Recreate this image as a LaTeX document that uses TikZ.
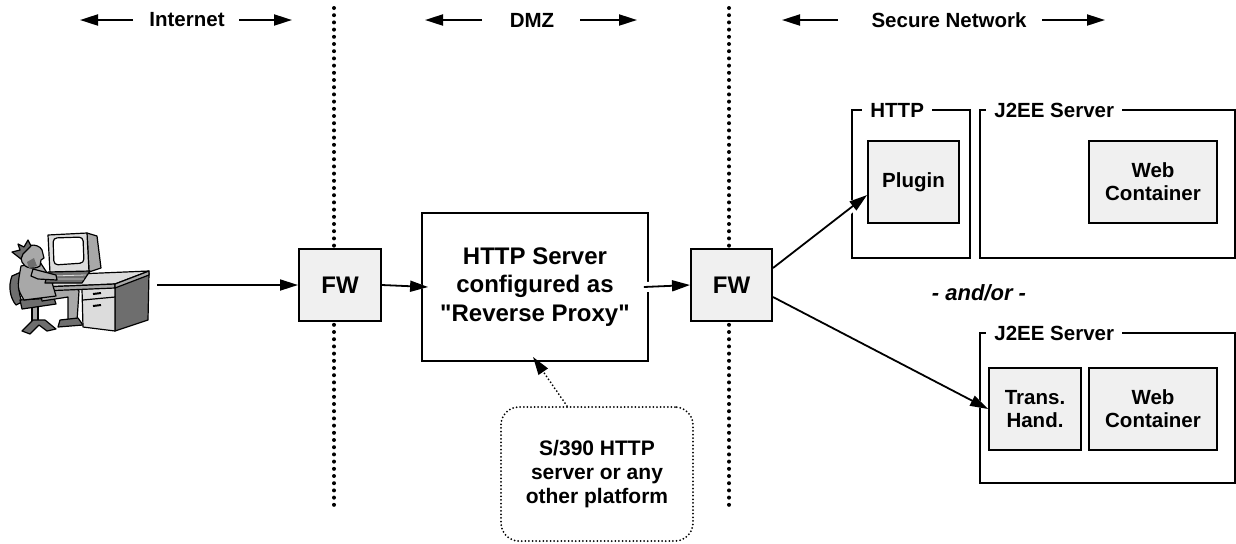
\documentclass[tikz,border=0pt]{standalone}
\usepackage{fontspec}
\setmainfont{Liberation Sans}
\usetikzlibrary{arrows.meta,calc}
\pgfdeclarelayer{background}
\pgfdeclarelayer{halo}
\pgfsetlayers{background,halo,main}

\definecolor{boxgray}{HTML}{F0F0F0}
\definecolor{clipA}{HTML}{DCDCDC}
\definecolor{clipB}{HTML}{A8A8A8}
\definecolor{clipC}{HTML}{6E6E6E}

\begin{document}
\begin{tikzpicture}[x=0.5pt,y=-0.5pt,
  tip/.style={-{Triangle[length=9pt,width=5.5pt]}},
  fwbox/.style={draw, line width=1pt, fill=boxgray, minimum width=41pt,
    minimum height=36pt, inner sep=0pt, font=\bfseries\fontsize{12}{14}\selectfont},
  innerbox/.style={draw, line width=0.9pt, fill=boxgray, align=center, inner sep=0pt,
    minimum height=41pt, font=\bfseries\fontsize{10.25}{11.35}\selectfont},
  framebox/.style={draw, line width=0.9pt, inner sep=0pt},
  framelabel/.style={fill=white, anchor=west, inner xsep=4pt, inner ysep=1pt,
    font=\bfseries\fontsize{10.25}{12}\selectfont},
  hdr/.style={inner sep=0pt, font=\bfseries\fontsize{10.25}{12}\selectfont},
  hdrarrow/.style={tip, line width=1pt},
  flow/.style={tip, line width=0.9pt},
  haloline/.style={draw=white, line width=5pt, tip},
  zone/.style={line width=2pt, line cap=round, dash pattern=on 0pt off 3.6pt},
  notebox/.style={draw, line width=1pt, line cap=round, dash pattern=on 0pt off 1.8pt,
    rounded corners=9pt, align=center, inner sep=0pt,
    font=\bfseries\fontsize{10.5}{12}\selectfont},
  notearrow/.style={tip, line width=1pt, line cap=round, dash pattern=on 0pt off 1.8pt},
  clip line/.style={line width=0.6pt, line join=round}
]
\useasboundingbox (0,0) rectangle (1236,543);

% ---------- zone headings ----------
\node[hdr] (inet) at (187,20) {Internet};
\node[hdr] (dmz)  at (532,20) {DMZ};
\node[hdr] (sec)  at (949,20) {Secure Network};
\draw[hdrarrow] ([xshift=-27pt]inet.center) -- ++(-53,0);
\draw[hdrarrow] ([xshift=26pt]inet.center)  -- ++(53,0);
\draw[hdrarrow] ([xshift=-25pt]dmz.center)  -- ++(-57,0);
\draw[hdrarrow] ([xshift=24pt]dmz.center)   -- ++(57,0);
\draw[hdrarrow] ([xshift=-55.5pt]sec.center) -- ++(-56,0);
\draw[hdrarrow] ([xshift=46.5pt]sec.center)  -- ++(63,0);

% ---------- zone borders, frames and the proxy box ----------
\begin{pgfonlayer}{background}
  \draw[zone] (334,8) -- (334,512);
  \draw[zone] (729,8) -- (729,512);
  \node[framebox, minimum width=113pt, minimum height=74pt, align=center,
        font=\bfseries\fontsize{12}{14.25}\selectfont] (proxy) at (535,287)
        {HTTP Server\\configured as\\\textquotedbl Reverse Proxy\textquotedbl};
  \node[framebox, minimum width=59pt, minimum height=74pt] (httpframe) at (911,184) {};
  \node[framebox, minimum width=127.5pt, minimum height=74pt] (j2eeA) at (1107.5,184) {};
  \node[framebox, minimum width=127.5pt, minimum height=75pt] (j2eeB) at (1107.5,408) {};
\end{pgfonlayer}

\node[framelabel] (httplbl) at (862,110) {HTTP};
\node[framelabel] (j2eeAlbl) at (986,110) {J2EE Server};
\node[framelabel] (j2eeBlbl) at (986,333) {J2EE Server};

% ---------- firewalls and components ----------
\node[fwbox] (fw1) at (340,285) {FW};
\node[fwbox, minimum width=40.5pt] (fw2) at (731.5,285) {FW};

\node[innerbox, minimum width=45.5pt] (plugin) at (913.5,182) {Plugin};
\node[innerbox, minimum width=64pt] (webA) at (1153,182) {Web\\Container};
\node[innerbox, minimum width=46pt] (trans) at (1035,409) {Trans.\\Hand.};
\node[innerbox, minimum width=64pt] (webB) at (1153,409) {Web\\Container};

\node[font=\bfseries\itshape\fontsize{11}{13}\selectfont] (andor) at (979,293) {- and/or -};

% ---------- note ----------
\node[notebox, minimum width=96pt, minimum height=67pt] (note) at (597,474)
  {S/390 HTTP\\server or any\\other platform};
\draw[notearrow] ([xshift=-15pt]note.north) -- ([xshift=-1pt,yshift=2.5pt]proxy.south);

% ---------- workstation user ----------
\node[inner sep=0pt, minimum width=77pt, minimum height=51pt] (user) at (80,285) {};
\begin{scope}[clip line]
  % chair
  \filldraw[fill=clipC] (12,276) .. controls (8,286) and (10,298) .. (16,305)
    -- (22,302) .. controls (18,292) and (18,282) .. (21,272) -- cycle;
  \filldraw[fill=clipB] (32,306) -- (38,306) -- (38,321) -- (32,321) -- cycle;
  \filldraw[fill=clipC] (22,331) -- (33,320) -- (45,320) -- (56,329) -- (47,331)
    -- (39,325) -- (30,334) -- cycle;
  \filldraw[fill=clipC] (20,300) -- (54,298) -- (56,304) -- (22,309) -- cycle;
  % legs
  \filldraw[fill=clipB] (40,288) -- (74,285) -- (79,291) -- (77,321) -- (68,321)
    -- (68,297) -- (42,301) -- cycle;
  \filldraw[fill=clipC] (60,320) -- (78,318) -- (83,325) -- (58,327) -- cycle;
  % desk
  \filldraw[fill=clipC] (115,286) -- (149,273) -- (148,320) -- (115,331) -- cycle;
  \filldraw[fill=clipA] (82,289) -- (115,287) -- (115,331) -- (83,327) -- cycle;
  \draw (83,300) -- (115,297);
  \draw[line width=1pt] (93,294) -- (101,293) (93,306) -- (101,305);
  \filldraw[fill=clipA] (42,287) -- (77,274) -- (149,271) -- (115,284) -- cycle;
  \filldraw[fill=clipB] (42,287) -- (115,284) -- (115,288) -- (42,291) -- cycle;
  \filldraw[fill=clipB] (115,284) -- (149,271) -- (149,275) -- (115,288) -- cycle;
  % body
  \filldraw[fill=clipB] (21,266) -- (40,262) -- (51,279) -- (56,296) -- (24,300)
    .. controls (17,288) .. (21,266) -- cycle;
  % monitor
  \filldraw[fill=clipB] (87,233) -- (97,236) -- (101,268) -- (89,272) -- cycle;
  \filldraw[fill=clipA] (48,235) -- (87,233) -- (89,272) -- (50,273) -- cycle;
  \filldraw[fill=white, rounded corners=2pt] (53,238) -- (83,237) -- (84,263) -- (54,265) -- cycle;
  % keyboard
  \filldraw[fill=clipC] (48,272) -- (90,271) -- (82,283) -- (45,283) -- cycle;
  \draw[clipA, line width=0.4pt] (50,276) -- (86,275) (48,279) -- (84,279);
  % arm
  \filldraw[fill=clipB] (33,269) -- (56,275) -- (57,280) -- (38,279) -- (31,276) -- cycle;
  % head and hair
  \filldraw[fill=clipB] (20,254) .. controls (22,244) and (38,242) .. (42,250)
    -- (44,258) -- (41,260) -- (40,266) .. controls (34,270) and (24,268) .. (22,262) -- cycle;
  \fill[clipC] (27,262) -- (34,258) -- (37,266) -- (29,268) -- cycle;
  \filldraw[fill=clipC] (12,252) -- (20,250) -- (18,244) -- (24,247) -- (28,240)
    -- (31,246) -- (23,254) -- (21,259) -- cycle;
\end{scope}

% ---------- connections ----------
\begin{pgfonlayer}{halo}
  \draw[haloline] (fw1.east) -- ([xshift=3.5pt]proxy.west);
  \draw[haloline] ([xshift=-2.5pt]proxy.east) -- (fw2.west);
  \draw[haloline] ([yshift=8.5pt]fw2.east) -- ([yshift=-6.5pt]plugin.west);
  \draw[haloline] ([yshift=-6pt]fw2.east) -- (trans.west);
\end{pgfonlayer}
\draw[flow] (user.east) -- (fw1.west);
\draw[flow] (fw1.east) -- ([xshift=3.5pt]proxy.west);
\draw[flow] ([xshift=-2.5pt]proxy.east) -- (fw2.west);
\draw[flow] ([yshift=8.5pt]fw2.east) -- ([yshift=-6.5pt]plugin.west);
\draw[flow] ([yshift=-6pt]fw2.east) -- (trans.west);
\end{tikzpicture}
\end{document}
